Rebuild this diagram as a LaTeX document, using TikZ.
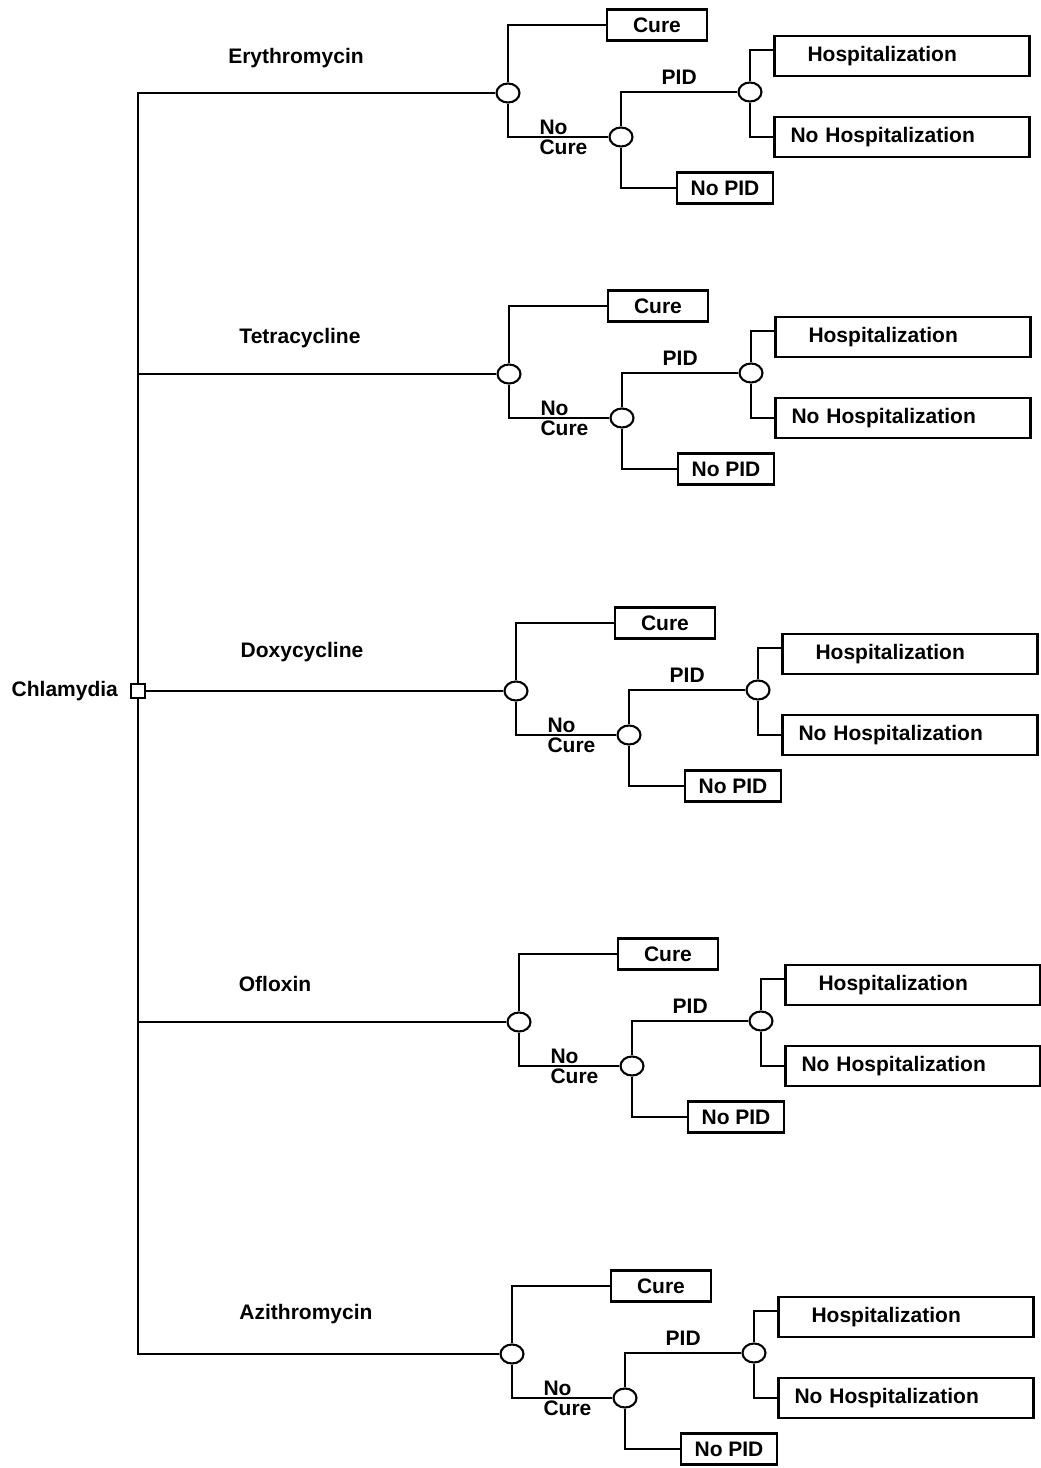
\documentclass[tikz,border=0pt]{standalone}
\usepackage{fontspec}
\setmainfont{Liberation Sans}
\usetikzlibrary{positioning,
                shapes.geometric
                }

\begin{document}
\begin{tikzpicture}[
        x = 1pt, y = -1pt,
        line width = 2.1pt,
        every node/.style = {font=\fontsize{21}{20}\selectfont\bfseries},
        chance/.style = {shape=ellipse, draw, fill=white, inner sep=0pt,
                         minimum width=23pt, minimum height=19pt},
        decision/.style = {draw, fill=white, inner sep=0pt, minimum size=14pt},
        outcome/.style = {draw, inner sep=0pt, minimum height=31pt},
        final/.style = {draw, inner xsep=16pt, inner ysep=0pt, minimum height=40pt,
                        text width=223pt, align=left},
        branch/.style = {inner sep=2pt, align=left}
    ]
    \useasboundingbox (0,0) rectangle (1041,1468);
    % root decision
    \node (root) [decision] at (138,691) {};
    \node [branch, left=9pt of root] {Chlamydia};
    % one chance subtree per drug
    \foreach \cx/\cy/\drug/\lx/\ly [count=\i] in {
            508/93/Erythromycin/296/58,
            509/374/Tetracycline/300/338,
            516/691/Doxycycline/302/652,
            519/1022/Ofloxin/275/984,
            512/1354/Azithromycin/306/1314}
    {
        \node [branch] at (\lx,\ly) {\drug};
        \node (c\i) [chance] at (\cx,\cy) {};
        \node (cure\i) [outcome, minimum width=100pt] at ({\cx+149},{\cy-68}) {Cure};
        \node (nc\i) [chance] at ({\cx+113},{\cy+44}) {};
        \node (pid\i) [chance] at ({\cx+242},{\cy-1}) {};
        \node (nopid\i) [outcome, minimum width=96pt] at ({\cx+217},{\cy+95}) {No PID};
        \node (hosp\i) [final] at ({\cx+394},{\cy-37}) {\hspace*{17pt}Hospitalization};
        \node (nohosp\i) [final] at ({\cx+394},{\cy+44}) {No Hospitalization};
        \node [branch, left=18pt of nc\i] {No\\Cure};
        \draw (c\i.north) |- (cure\i.west);
        \draw (c\i.south) |- (nc\i.west);
        \draw (nc\i.north) |- node[branch, pos=0.75, above=4pt] {PID} (pid\i.west);
        \draw (nc\i.south) |- (nopid\i.west);
        \draw (pid\i.north) |- ([yshift=6pt]hosp\i.west);
        \draw (pid\i.south) |- (nohosp\i.west);
    }
    % trunk
    \draw (root.north) |- (c1.west);
    \draw (root.north) |- (c2.west);
    \draw (root.east) -- (c3.west);
    \draw (root.south) |- (c4.west);
    \draw (root.south) |- (c5.west);
\end{tikzpicture}
\end{document}
